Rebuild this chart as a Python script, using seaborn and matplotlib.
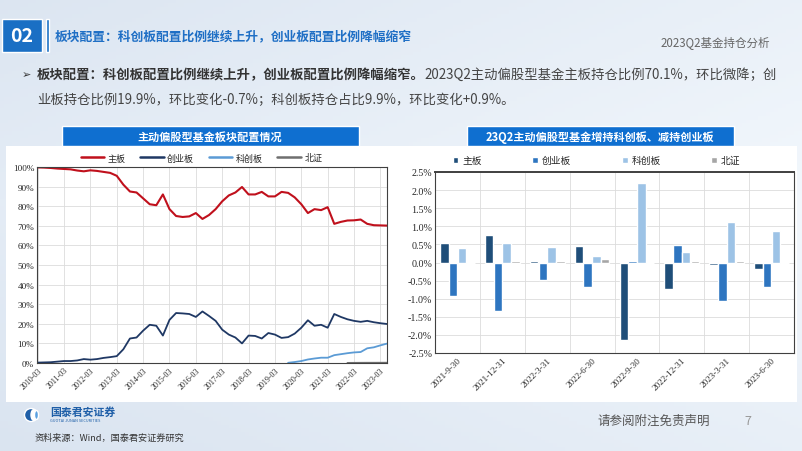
import matplotlib
matplotlib.use("Agg")
import matplotlib.pyplot as plt
import matplotlib.patches as mpatches
from matplotlib.lines import Line2D
import numpy as np
import pandas as pd
import seaborn as sns

nan = np.nan

# ---- left chart: sector weights of active equity funds (%) ----
quarters = pd.period_range("2010Q1", "2023Q2", freq="Q").strftime("%Y-%m").tolist()

main_board = [99.8, 99.7, 99.5, 99.2, 99.0, 98.8, 98.2, 97.8, 98.3, 98.0,
              97.5, 97.0, 95.5, 91.0, 87.5, 87.0, 84.0, 81.0, 80.5, 86.0,
              78.5, 75.0, 74.5, 74.8, 76.5, 73.5, 75.5, 78.5, 82.5, 85.5,
              87.0, 89.8, 86.0, 86.0, 87.3, 85.0, 85.0, 87.3, 86.8, 84.5,
              81.0, 76.5, 78.5, 78.0, 79.5, 71.0, 72.0, 72.7, 72.8, 73.2,
              71.0, 70.3, 70.2, 70.1]
chinext = [0.2, 0.3, 0.4, 0.7, 1.0, 1.0, 1.3, 2.0, 1.7, 2.0,
           2.6, 3.0, 3.5, 7.0, 12.5, 13.0, 16.5, 19.5, 19.0, 14.0,
           22.0, 25.5, 25.3, 25.0, 23.5, 26.3, 24.0, 21.5, 17.0, 14.5,
           13.0, 10.0, 14.0, 13.8, 12.5, 15.3, 14.5, 12.8, 13.2, 15.0,
           18.0, 21.8, 19.0, 19.5, 18.0, 25.0, 23.5, 22.3, 21.5, 21.0,
           21.5, 20.8, 20.3, 19.9]
star = [nan] * 38 + [0.1, 0.5, 1.0, 1.8, 2.3, 2.7, 2.7, 4.0, 4.5, 5.0,
                     5.4, 5.6, 7.5, 8.0, 9.0, 9.9]
bse = [nan] * 47 + [0.05, 0.08, 0.1, 0.12, 0.12, 0.13, 0.15]

line_names = ["主板", "创业板", "科创板", "北证"]
line_colors = ["#c0101c", "#1f3864", "#5b9bd5", "#6f6f6f"]

# ---- right chart: quarter-on-quarter change (%) ----
bar_dates = ["2021-9-30", "2021-12-31", "2022-3-31", "2022-6-30",
             "2022-9-30", "2022-12-31", "2023-3-31", "2023-6-30"]
chg_main = [0.53, 0.76, 0.05, 0.46, -2.14, -0.73, -0.06, -0.18]
chg_chinext = [-0.93, -1.33, -0.49, -0.68, 0.04, 0.49, -1.05, -0.68]
chg_star = [0.39, 0.53, 0.44, 0.17, 2.19, 0.28, 1.13, 0.88]
chg_bse = [0.0, 0.03, 0.03, 0.10, -0.02, 0.03, 0.03, 0.0]
bar_colors = ["#1f4e79", "#2e75c0", "#9dc3e6", "#a6a6a6"]

sns.set_theme(style="white")
plt.rcParams["font.family"] = ["Noto Sans CJK SC", "DejaVu Sans"]
plt.rcParams["axes.unicode_minus"] = False

W, H = 802, 452
fig = plt.figure(figsize=(W / 100, H / 100), dpi=100)

# background layer in pixel coordinates
bg = fig.add_axes([0, 0, 1, 1], zorder=-5)
bg.set_xlim(0, W)
bg.set_ylim(H, 0)
bg.axis("off")
gx = np.linspace(0, 1, 200)
gy = np.linspace(0, 1, 120)
GX, GY = np.meshgrid(gx, gy)
grad = 0.55 * GX + 0.45 * (1 - np.abs(GY - 0.45) * 1.6)
c0 = np.array([0.85, 0.89, 0.94])
c1 = np.array([0.95, 0.97, 0.99])
img = c0 + (c1 - c0) * np.clip(grad, 0, 1)[..., None]
bg.imshow(img, extent=(0, W, H, 0), aspect="auto", zorder=0)
bg.add_patch(mpatches.Rectangle((6, 147), 791, 256, facecolor="white", edgecolor="none", zorder=1))

# header
bg.add_patch(mpatches.Rectangle((2, 20), 40, 33, facecolor="#1a6fc4", zorder=2))
bg.add_patch(mpatches.Rectangle((46, 20), 3, 33, facecolor="#1a6fc4", zorder=2))
bg.text(22, 37, "02", color="white", fontsize=14, fontweight="bold", ha="center", va="center", zorder=3)
bg.text(55, 37, "板块配置：科创板配置比例继续上升，创业板配置比例降幅缩窄", color="#1f6fc5",
        fontsize=9.2, fontweight="bold", ha="left", va="center", zorder=3)
bg.text(770, 43, "2023Q2基金持仓分析", color="#666666", fontsize=8.3, ha="right", va="center", zorder=3)

bg.text(22, 75, "➢", color="#333333", fontsize=8, ha="left", va="center", zorder=3,
        family=["DejaVu Sans"])
t1 = bg.text(37, 75, "板块配置：科创板配置比例继续上升，创业板配置比例降幅缩窄。", color="#333333",
             fontsize=9.6, fontweight="bold", ha="left", va="center", zorder=3)
bg.annotate("2023Q2主动偏股型基金主板持仓比例70.1%，环比微降；创", xy=(1, 0.5), xycoords=t1,
            va="center", ha="left", color="#444444", fontsize=9.6, zorder=3)
bg.text(37, 100, "业板持仓比例19.9%，环比变化-0.7%；科创板持仓占比9.9%，环比变化+0.9%。",
        color="#444444", fontsize=9.6, ha="left", va="center", zorder=3)

# panel title bars
bg.add_patch(mpatches.Rectangle((62, 127), 297, 20, facecolor="#0f6fd0", zorder=2))
bg.text(210, 137.5, "主动偏股型基金板块配置情况", color="white", fontsize=8, fontweight="bold",
        ha="center", va="center", zorder=3)
bg.add_patch(mpatches.Rectangle((467, 127), 267, 20, facecolor="#0f6fd0", zorder=2))
bg.text(600, 137.5, "23Q2主动偏股型基金增持科创板、减持创业板", color="white", fontsize=8,
        fontweight="bold", ha="center", va="center", zorder=3)

# footer
bg.add_patch(mpatches.Circle((31, 416), 6.5, facecolor="#1f5fa8", zorder=2))
bg.add_patch(mpatches.Ellipse((34, 416), 6, 11, facecolor="white", zorder=3))
bg.add_patch(mpatches.Ellipse((36.5, 416), 4, 9, facecolor="#5aa0e0", zorder=4))
bg.text(50, 413, "国泰君安证券", color="#1f5fa8", fontsize=7.8, fontweight="bold", ha="left", va="center", zorder=3)
bg.text(50, 421, "GUOTAI JUNAN SECURITIES", color="#1f5fa8", fontsize=2.8, ha="left", va="center", zorder=3)
bg.text(35, 438, "资料来源：Wind，国泰君安证券研究", color="#333333", fontsize=6.6, ha="left", va="center", zorder=3)
bg.text(598, 421, "请参阅附注免责声明", color="#555555", fontsize=9, ha="left", va="center", zorder=3)
bg.text(748, 422, "7", color="#999999", fontsize=9, ha="center", va="center", zorder=3)


def px_axes(x0, y0, x1, y1):
    return fig.add_axes([x0 / W, 1 - y1 / H, (x1 - x0) / W, (y1 - y0) / H])


serif = "Liberation Serif"
spine_c = "#404040"
grid_c = "#dcdcdc"

# ---- left line chart ----
ax1 = px_axes(37, 168, 387, 364)
x = np.arange(len(quarters))
series = [main_board, chinext, star, bse]
for name, vals, c in zip(line_names, series, line_colors):
    sns.lineplot(x=x, y=vals, ax=ax1, color=c, lw=1.5 if name == "主板" else 1.3, legend=False)
ax1.set_xlim(-0.1, len(quarters) - 1)
ax1.set_ylim(0, 100)
tick_pos = [i for i, q in enumerate(quarters) if q.endswith("-03")]
ax1.set_xticks(tick_pos)
ax1.set_xticklabels([quarters[i] for i in tick_pos], rotation=45, ha="right",
                    rotation_mode="anchor", fontsize=5.8, family=serif)
ax1.set_yticks(np.arange(0, 101, 10))
ax1.set_yticklabels([f"{v}%" for v in range(0, 101, 10)], fontsize=6.6, family=serif)
ax1.tick_params(axis="both", length=0, pad=2)
ax1.grid(True, color=grid_c, lw=0.6)
for s in ax1.spines.values():
    s.set_color(spine_c)
    s.set_linewidth(0.8)
handles = [Line2D([0], [0], color=c, lw=1.8) for c in line_colors]
ax1.legend(handles, line_names, ncol=4, loc="lower center", bbox_to_anchor=(0.47, 1.0),
           frameon=False, fontsize=6.5, handlelength=2.6, columnspacing=1.6, handletextpad=0.4,
           borderaxespad=0.1)

# ---- right bar chart ----
ax2 = px_axes(435, 173, 794, 354)
df = pd.DataFrame({
    "date": bar_dates * 4,
    "board": sum([[n] * len(bar_dates) for n in line_names], []),
    "chg": chg_main + chg_chinext + chg_star + chg_bse,
})
sns.barplot(data=df, x="date", y="chg", hue="board", hue_order=line_names, order=bar_dates,
            palette=bar_colors, width=0.78, gap=0.04, ax=ax2, saturation=1)
ax2.set_xlim(-0.5, len(bar_dates) - 0.5)
ax2.set_ylim(-2.5, 2.5)
yt = np.arange(-2.5, 2.51, 0.5)
ax2.set_yticks(yt)
ax2.set_yticklabels([f"{v:.1f}%" for v in yt], fontsize=7.2, family=serif)
ax2.set_xlabel("")
ax2.set_ylabel("")
ax2.set_xticks(range(len(bar_dates)))
ax2.set_xticklabels(bar_dates, rotation=45, ha="right", rotation_mode="anchor",
                    fontsize=6.6, family=serif)
ax2.tick_params(axis="both", length=0, pad=2)
ax2.yaxis.grid(True, color=grid_c, lw=0.6)
ax2.set_axisbelow(True)
for b in np.arange(0.5, len(bar_dates) - 0.5, 1):
    ax2.axvline(b, color=grid_c, lw=0.6, zorder=0)
for s in ax2.spines.values():
    s.set_color(spine_c)
    s.set_linewidth(0.8)
ax2.spines["top"].set_linewidth(1.4)
h2, l2 = ax2.get_legend_handles_labels()
ax2.legend(h2, l2, ncol=4, loc="lower center", bbox_to_anchor=(0.45, 1.0), frameon=False,
           fontsize=7, handlelength=0.6, handleheight=0.6, columnspacing=5.2, handletextpad=0.4,
           borderaxespad=0.3)

fig.savefig("out.png", dpi=100)
